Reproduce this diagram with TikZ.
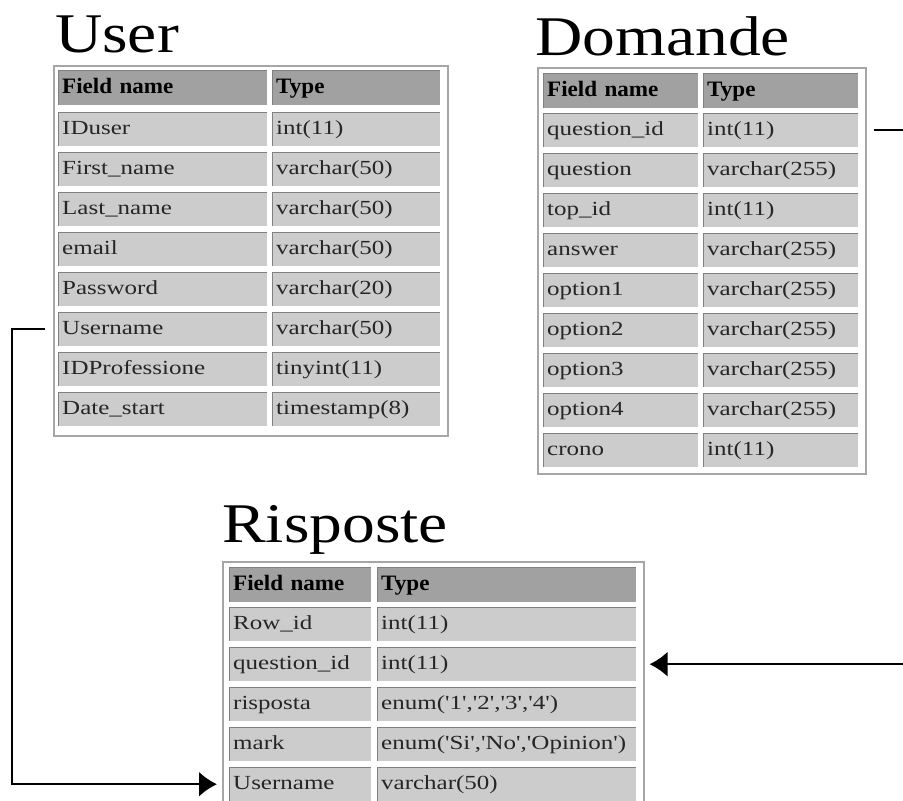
\documentclass[tikz,border=0pt]{standalone}
\usepackage{fontspec}
\setmainfont{Liberation Serif}
\newfontfamily\cellfont[FakeStretch=1.25,Ligatures=TeXOff]{Liberation Serif}
\newfontfamily\headfont[FakeStretch=1.05]{Liberation Serif}
\newfontfamily\titlefont[FakeStretch=1.17]{Liberation Serif}
\usetikzlibrary{arrows.meta}

\begin{document}
\begin{tikzpicture}[x=1pt, y=-1pt,
	frame/.style={rectangle, anchor=north west, inner sep=0pt, draw=black!35, line width=1.5pt},
	cell/.style={rectangle, anchor=north west, inner xsep=4pt, inner ysep=0pt, text width=#1, align=left,
		minimum height=34pt, text height=14pt, text depth=4pt, fill=black!20, text=black!85,
		font=\cellfont\fontsize{20}{24}\selectfont,
		path picture={\draw[black!50, line width=2.4pt] (path picture bounding box.south west) |- (path picture bounding box.north east);}},
	head/.style={cell=#1, fill=black!37, minimum height=35pt, text height=16pt, text depth=5pt, text=black,
		font=\headfont\bfseries\fontsize{22}{26}\selectfont},
	title/.style={anchor=base west, inner sep=0pt, font=\titlefont\fontsize{56}{60}\selectfont},
	link/.style={draw=black, line width=2.2pt, -{Latex[length=18pt, width=25pt]}}]
				\useasboundingbox (0,0) rectangle (903,801);
				\clip (0,0) rectangle (903,801);
				
				% User
				\node[title] (utitle) at (55,52) {User};
				\node[frame, minimum width=394pt, minimum height=370pt] (ubox) at (53,65) {};
				\node[head=201pt] (uf0) at (58,70) {Field name};
				\node[head=160pt] (ut0) at (272,70) {Type};
				\node[cell=201pt] (uf1) at (58,112) {IDuser};
				\node[cell=160pt] (ut1) at (272,112) {int(11)};
				\node[cell=201pt] (uf2) at (58,152) {First\_name};
				\node[cell=160pt] (ut2) at (272,152) {varchar(50)};
				\node[cell=201pt] (uf3) at (58,192) {Last\_name};
				\node[cell=160pt] (ut3) at (272,192) {varchar(50)};
				\node[cell=201pt] (uf4) at (58,232) {email};
				\node[cell=160pt] (ut4) at (272,232) {varchar(50)};
				\node[cell=201pt] (uf5) at (58,272) {Password};
				\node[cell=160pt] (ut5) at (272,272) {varchar(20)};
				\node[cell=201pt] (uf6) at (58,312) {Username};
				\node[cell=160pt] (ut6) at (272,312) {varchar(50)};
				\node[cell=201pt] (uf7) at (58,352) {IDProfessione};
				\node[cell=160pt] (ut7) at (272,352) {tinyint(11)};
				\node[cell=201pt] (uf8) at (58,392) {Date\_start};
				\node[cell=160pt] (ut8) at (272,392) {timestamp(8)};
				
				% Domande
				\node[title] (dtitle) at (535,55) {Domande};
				\node[frame, minimum width=328pt, minimum height=406pt] (dbox) at (537,67) {};
				\node[head=147pt] (df0) at (543,73) {Field name};
				\node[head=147pt] (dt0) at (703,73) {Type};
				\node[cell=147pt] (df1) at (543,113) {question\_id};
				\node[cell=147pt] (dt1) at (703,113) {int(11)};
				\node[cell=147pt] (df2) at (543,153) {question};
				\node[cell=147pt] (dt2) at (703,153) {varchar(255)};
				\node[cell=147pt] (df3) at (543,193) {top\_id};
				\node[cell=147pt] (dt3) at (703,193) {int(11)};
				\node[cell=147pt] (df4) at (543,233) {answer};
				\node[cell=147pt] (dt4) at (703,233) {varchar(255)};
				\node[cell=147pt] (df5) at (543,273) {option1};
				\node[cell=147pt] (dt5) at (703,273) {varchar(255)};
				\node[cell=147pt] (df6) at (543,313) {option2};
				\node[cell=147pt] (dt6) at (703,313) {varchar(255)};
				\node[cell=147pt] (df7) at (543,353) {option3};
				\node[cell=147pt] (dt7) at (703,353) {varchar(255)};
				\node[cell=147pt] (df8) at (543,393) {option4};
				\node[cell=147pt] (dt8) at (703,393) {varchar(255)};
				\node[cell=147pt] (df9) at (543,433) {crono};
				\node[cell=147pt] (dt9) at (703,433) {int(11)};
				
				% Risposte
				\node[title] (rtitle) at (222,542) {Risposte};
				\node[frame, minimum width=421pt, minimum height=246pt] (rbox) at (222,561) {};
				\node[head=134pt] (rf0) at (229,567) {Field name};
				\node[head=251pt] (rt0) at (377,567) {Type};
				\node[cell=134pt] (rf1) at (229,607) {Row\_id};
				\node[cell=251pt] (rt1) at (377,607) {int(11)};
				\node[cell=134pt] (rf2) at (229,647) {question\_id};
				\node[cell=251pt] (rt2) at (377,647) {int(11)};
				\node[cell=134pt] (rf3) at (229,687) {risposta};
				\node[cell=251pt] (rt3) at (377,687) {enum('1','2','3','4')};
				\node[cell=134pt] (rf4) at (229,727) {mark};
				\node[cell=251pt] (rt4) at (377,727) {enum('Si','No','Opinion')};
				\node[cell=134pt] (rf5) at (229,767) {Username};
				\node[cell=251pt] (rt5) at (377,767) {varchar(50)};
				
				\draw[link] ([xshift=-8pt]ubox.west |- uf6.west) -- ++(-33,0) |- ([xshift=-5pt]rbox.west |- rf5.west);
				\draw[link] ([xshift=7pt]dbox.east |- df1.east) -- ++(34,0) |- ([xshift=5pt]rbox.east |- rt2.east);
				\end{tikzpicture}
\end{document}
